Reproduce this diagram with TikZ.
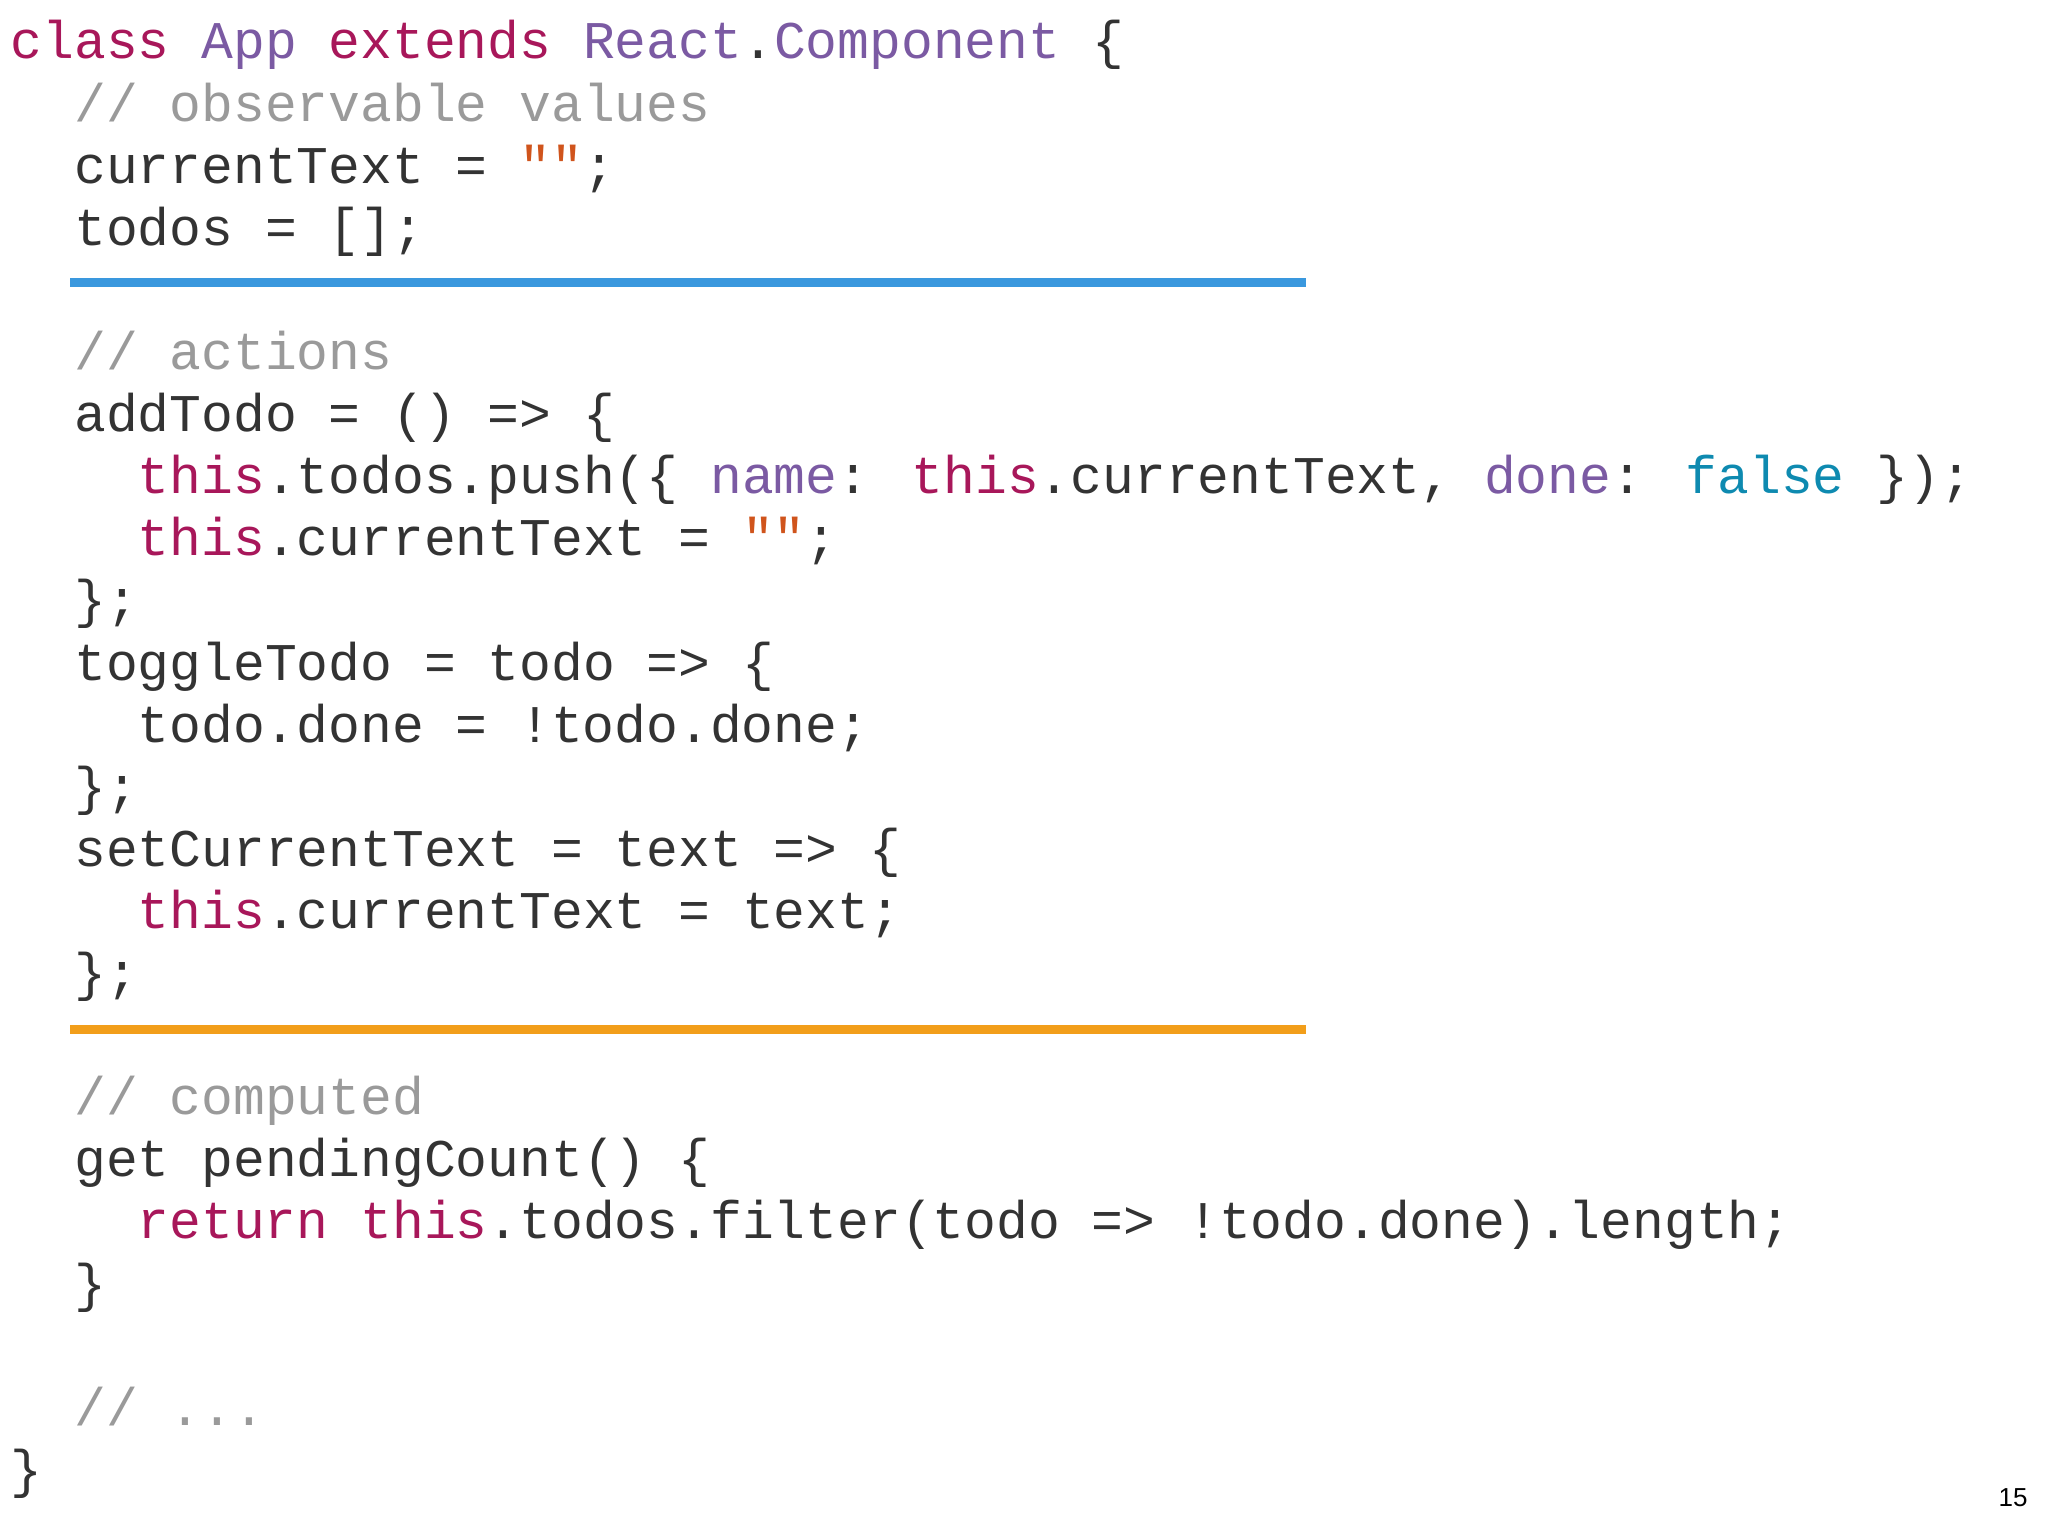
\documentclass[tikz,border=0pt]{standalone}
\usepackage{fontspec}
\newfontfamily\code{Liberation Mono}
\newfontfamily\pn{Liberation Sans}
\definecolor{txt}{HTML}{333333}
\definecolor{kwc}{HTML}{A8175A}
\definecolor{puc}{HTML}{7B5AA3}
\definecolor{cmc}{HTML}{9A9A9A}
\definecolor{stc}{HTML}{D0541C}
\definecolor{fac}{HTML}{0E8AB0}
\definecolor{bluer}{HTML}{3A98DE}
\definecolor{oranger}{HTML}{F29E1A}
\newcommand\kw[1]{\textcolor{kwc}{#1}}
\newcommand\pu[1]{\textcolor{puc}{#1}}
\newcommand\cm[1]{\textcolor{cmc}{#1}}
\newcommand\stq[1]{\textcolor{stc}{#1}}
\newcommand\fa[1]{\textcolor{fac}{#1}}
\tikzset{codeline/.style={anchor=base west,inner sep=0pt,text=txt,font=\code\fontsize{53}{60}\selectfont}}
\newcommand\cl[4]{\node[codeline] (#1) at ({10.5+31.77*#2},{59+62.1*#3}) {#4};}
\begin{document}
\begin{tikzpicture}[x=1pt,y=-1pt]
\useasboundingbox[fill=white] (0,0) rectangle (2048,1536);
\cl{l0}{0}{0}{\kw{class} \pu{App} \kw{extends} \pu{React}.\pu{Component} \{}
\cl{l1}{2}{1}{\cm{// observable values}}
\cl{l2}{2}{2}{currentText = \stq{""};}
\cl{l3}{2}{3}{todos = [];}
\cl{l5}{2}{5}{\cm{// actions}}
\cl{l6}{2}{6}{addTodo = () => \{}
\cl{l7}{4}{7}{\kw{this}.todos.push(\{ \pu{name}: \kw{this}.currentText, \pu{done}: \fa{false} \});}
\cl{l8}{4}{8}{\kw{this}.currentText = \stq{""};}
\cl{l9}{2}{9}{\};}
\cl{l10}{2}{10}{toggleTodo = todo => \{}
\cl{l11}{4}{11}{todo.done = !todo.done;}
\cl{l12}{2}{12}{\};}
\cl{l13}{2}{13}{setCurrentText = text => \{}
\cl{l14}{4}{14}{\kw{this}.currentText = text;}
\cl{l15}{2}{15}{\};}
\cl{l17}{2}{17}{\cm{// computed}}
\cl{l18}{2}{18}{get pendingCount() \{}
\cl{l19}{4}{19}{\kw{return} \kw{this}.todos.filter(todo => !todo.done).length;}
\cl{l20}{2}{20}{\}}
\cl{l22}{2}{22}{\cm{// ...}}
\cl{l23}{0}{23}{\}}
\fill[bluer] (70,278) rectangle (1306,287);
\fill[oranger] (70,1025) rectangle (1306,1034);
\node[font=\pn\fontsize{26}{30}\selectfont,text=black,inner sep=0pt] (pg) at (2013,1498) {15};
\end{tikzpicture}
\end{document}
